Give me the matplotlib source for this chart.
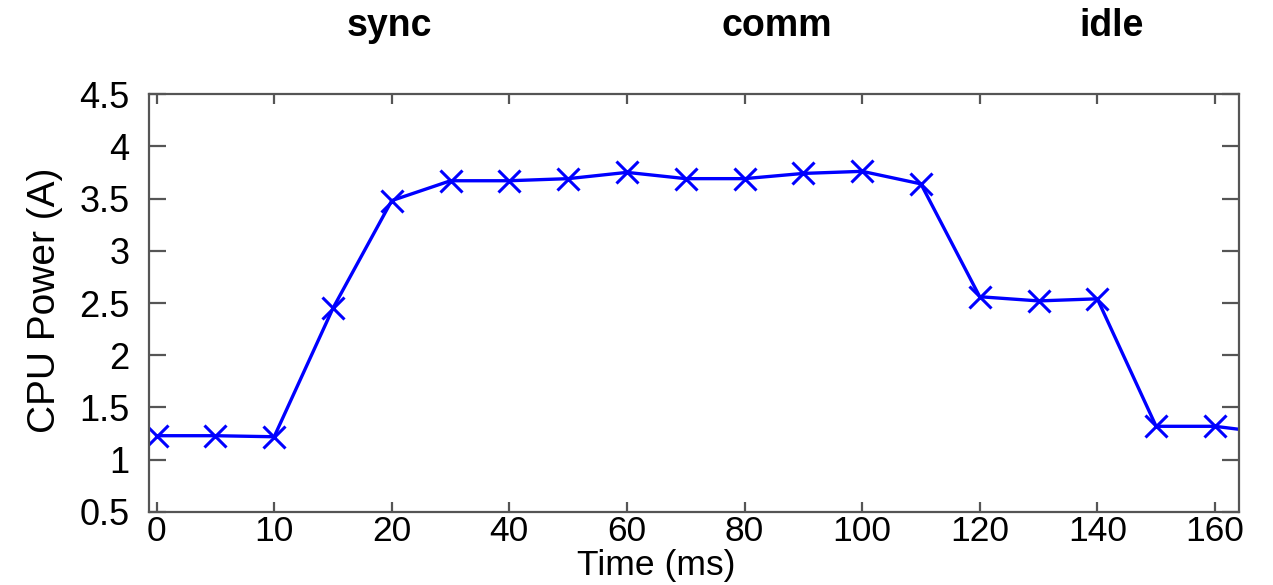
import numpy as np
import matplotlib
matplotlib.use("Agg")
import matplotlib.pyplot as plt

plt.rcParams['font.family'] = ['Liberation Sans', 'DejaVu Sans']

# Sampled CPU current over time
time_ms = [0, 5, 10, 15, 20, 30, 40, 50, 60, 70, 80, 90, 100, 110, 120, 130, 140, 150, 160, 170]
power_a = [1.23, 1.23, 1.22, 2.45, 3.48, 3.67, 3.67, 3.69, 3.75, 3.69, 3.69, 3.74, 3.76, 3.64,
           2.56, 2.52, 2.54, 1.32, 1.32, 1.25]

x_ticks = [0, 10, 20, 40, 60, 80, 100, 120, 140, 160]
y_ticks = [0.5, 1, 1.5, 2, 2.5, 3, 3.5, 4, 4.5]

phase_names = ["sync", "comm", "idle"]
phase_times = [19.8, 85.5, 142.5]


# Time axis: 5 ms spacing up to 20 ms, 10 ms spacing afterwards, equal width per sample
def fwd(t):
    t = np.asarray(t, dtype=float)
    return np.where(t <= 20, t / 5.0, 4.0 + (t - 20.0) / 10.0)


def inv(u):
    u = np.asarray(u, dtype=float)
    return np.where(u <= 4, u * 5.0, 20.0 + (u - 4.0) * 10.0)


fig = plt.figure(figsize=(12.73, 5.85), dpi=100)
ax = fig.add_axes([0.117, 0.1248, 0.8563, 0.7145])
ax.set_xscale('function', functions=(fwd, inv))

ax.plot(time_ms, power_a, color='#0000ff', lw=2.4, marker='x', markersize=16,
        markeredgewidth=2.2, clip_on=True)

ax.set_xlim(-0.65, 164.1)
ax.set_ylim(0.5, 4.5)
ax.set_xticks(x_ticks)
ax.set_xticklabels([str(v) for v in x_ticks])
ax.set_yticks(y_ticks)
ax.set_yticklabels([f"{v:g}" for v in y_ticks])
ax.minorticks_off()

for s in ax.spines.values():
    s.set_color('#555555')
    s.set_linewidth(1.6)

ax.tick_params(axis='y', which='major', direction='in', length=12, width=1.6,
               color='#555555', labelsize=26, pad=14, left=True, right=True)
ax.tick_params(axis='x', which='major', direction='in', length=7, width=1.6,
               color='#555555', labelsize=25.5, pad=2, top=True, bottom=True)

ax.set_xlabel("Time (ms)", fontsize=25.5)
ax.xaxis.set_label_coords(0.4656, -0.129)
ax.xaxis.label.set_va('center')
ax.set_ylabel("CPU Power (A)", fontsize=28)
ax.yaxis.set_label_coords(-0.095, 0.507)
ax.yaxis.label.set_va('center')

for name, t in zip(phase_names, phase_times):
    ax.text(t, 1.163, name, transform=ax.get_xaxis_transform(), ha='center', va='center',
            fontsize=27, fontweight='bold')

fig.savefig("out.png", dpi=100)
